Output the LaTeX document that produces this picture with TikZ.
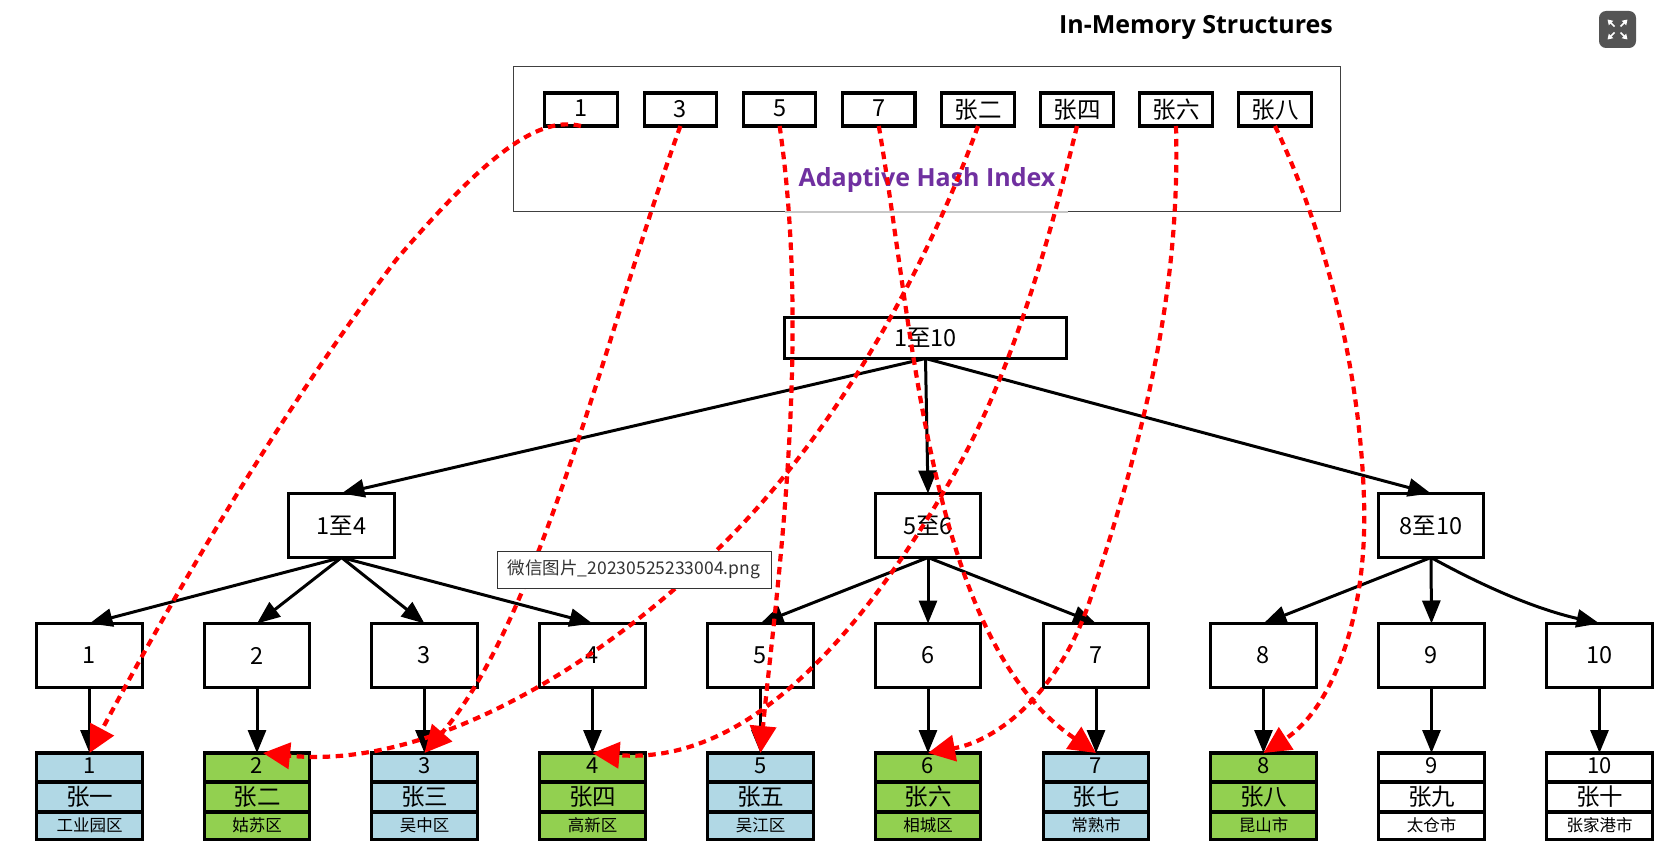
\documentclass[tikz,border=0pt]{standalone}
\usepackage{fontspec}
\usepackage{xcolor}
\usetikzlibrary{arrows.meta}
\setmainfont{Noto Sans CJK SC}
\newfontfamily\headfont{Open Sans}
\definecolor{rowblue}{HTML}{B1D8E5}
\definecolor{rowgreen}{HTML}{92D050}
\definecolor{hashpurple}{HTML}{7030A0}

\begin{document}
\begin{tikzpicture}[x=1pt,y=-1pt]
        \tikzset{box/.style={draw,line width=3.2pt,fill=white,inner sep=0pt,outer sep=0pt,
                font=\fontsize{23.5}{25}\selectfont},
            keybox/.style={box,minimum width=72.5pt,minimum height=33pt},
            midbox/.style={box,minimum width=105.5pt,minimum height=64pt},
            cell/.style={box,minimum width=105.5pt,text depth=3pt},
            link/.style={draw,line width=3pt,-{Triangle[length=23pt,width=18pt]}},
            ptr/.style={draw=red,line width=4.2pt,dash pattern=on 7.5pt off 5.5pt,
                -{Triangle[length=27pt,width=26pt,fill=red]}}}
        \useasboundingbox (0,0) rectangle (1674,851);
        \fill[white] (0,0) rectangle (1674,851);
        \node[font=\headfont\bfseries\fontsize{25}{27}\selectfont] (title) at (1196,27) {In-Memory Structures};
        \node[draw=black!75,line width=1.5pt,minimum width=827pt,minimum height=145pt,inner sep=0pt,outer sep=0pt] (hash) at (927,139) {};
        \draw[black!22,line width=2pt] (785,211.5) -- (1068,211.5);
        \node[font=\headfont\bfseries\fontsize{25}{27}\selectfont,text=hashpurple] (hashname) at (927,180) {Adaptive Hash Index};
        \foreach \k/\x/\t in {1/581/1,3/680.4/3,5/779.6/5,7/878.8/7,b/978/张二,d/1077/张四,f/1176/张六,h/1275/张八}
            \node[keybox,text depth=2pt] (k\k) at (\x,109.5) {\t};
        \node[box,minimum width=282.5pt,minimum height=41pt] (root) at (925.5,338) {1至10};
        \node[midbox] (a) at (341.5,525.5) {1至4};
        \node[midbox] (b) at (928,525.5) {5至6};
        \node[midbox] (c) at (1431,525.5) {8至10};
        \foreach \i/\x/\n/\d/\c in {1/89.5/张一/工业园区/rowblue,2/257/张二/姑苏区/rowgreen,3/424.5/张三/吴中区/rowblue,
                4/592.5/张四/高新区/rowgreen,5/760.5/张五/吴江区/rowblue,6/928/张六/相城区/rowgreen,7/1096/张七/常熟市/rowblue,
                8/1263.5/张八/昆山市/rowgreen,9/1431.5/张九/太仓市/white,10/1599.5/张十/张家港市/white} {
            \node[midbox] (l\i) at (\x,655.5) {\i};
            \node[cell,fill=\c,minimum height=29pt,font=\fontsize{22}{24}\selectfont] (r\i) at (\x,767.5) {\i};
            \node[cell,fill=\c,minimum height=30pt,font=\fontsize{23.5}{25}\selectfont] (n\i) at (\x,797) {\n};
            \node[cell,fill=\c,minimum height=27.5pt,font=\fontsize{16.5}{18}\selectfont] (d\i) at (\x,825.75) {\d};
            \draw[link] (l\i) -- (r\i);
        }
        \draw[link] (root.south) -- (a.north);
        \draw[link] (root.south) -- (b.north);
        \draw[link] (root.south) -- (c.north);
        \foreach \p/\q in {a/1,a/2,a/3,a/4,b/5,b/6,b/7,c/8,c/9}
            \draw[link] (\p.south) -- (l\q.north);
        \draw[link] (c.south) .. controls (1490,590) and (1540,610) .. (l10.north);
        \draw[ptr] (k1.south) .. controls (540,116) and (490,150) .. (396,260)
            .. controls (290,400) and (190,565) .. (r1.north);
        \draw[ptr] (k3.south) .. controls (610,320) and (540,620) .. (r3.north);
        \draw[ptr] (k5.south) .. controls (812,350) and (775,600) .. (r5.north);
        \draw[ptr] (k7.south) .. controls (915,340) and (930,640) .. (r7.north);
        \draw[ptr] (kb.south) .. controls (930,260) and (840,430) .. (719,548)
            .. controls (600,665) and (430,770) .. ([xshift=6pt]r2.north);
        \draw[ptr] (kd.south) .. controls (1040,280) and (1000,400) .. (943,493)
            .. controls (850,650) and (740,765) .. (r4.north);
        \draw[ptr] (kf.south) .. controls (1180,280) and (1150,420) .. (1090,600)
            .. controls (1060,690) and (1000,740) .. (r6.north);
        \draw[ptr] (kh.south) .. controls (1320,220) and (1360,360) .. (1364,500)
            .. controls (1368,620) and (1330,710) .. (r8.north);
        \node[draw=black!80,line width=1pt,fill=white,minimum width=274pt,minimum height=37pt,inner sep=0pt,
            text=black!80,font=\fontsize{17.5}{19}\selectfont] (tip) at (634,569.5) {微信图片\_20230525233004.png};
        \node[fill=black!67,rounded corners=7pt,minimum width=37pt,minimum height=37pt,inner sep=0pt] (full) at (1617.5,29.5) {};
        \foreach \u/\v in {-1/-1,1/-1,-1/1,1/1}
            \draw[white,line width=1.7pt,-{Triangle[length=5pt,width=6pt]}] ([shift={(3*\u,3*\v)}]full.center) -- ([shift={(10*\u,10*\v)}]full.center);
\end{tikzpicture}
\end{document}
